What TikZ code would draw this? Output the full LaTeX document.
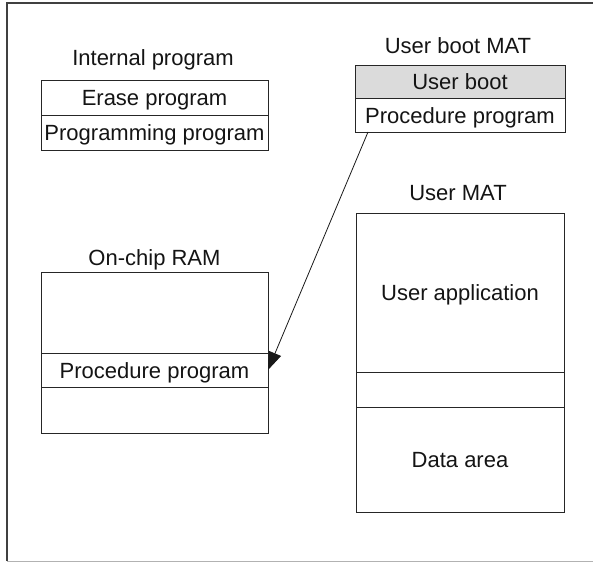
\documentclass[tikz,border=0pt]{standalone}
\usepackage{fontspec}
\setmainfont{Liberation Sans}
\usetikzlibrary{arrows.meta,positioning}
\begin{document}
\begin{tikzpicture}[x=1pt,y=-1pt,font=\fontsize{22}{26}\selectfont,text=black!92,
	cell/.style={draw=black!85,line width=0.9pt,inner sep=0pt,outer sep=0pt,text height=16pt,text depth=0pt,anchor=north west},
	title/.style={anchor=base,inner sep=0pt}]
				\useasboundingbox (0,0) rectangle (593,562);
				\draw[black!75,line width=1.2pt] (593,3)--(7,3)--(7,561);
				\draw[black!30,line width=1pt] (7,561)--(593,561);
				% internal program
				\node[cell,minimum width=227pt,minimum height=35pt] (erase) at (41,80) {Erase program};
				\node[cell,minimum width=227pt,minimum height=35pt,below=0pt of erase] (progr) {Programming program};
				\node[title] (intlbl) at (153,65) {Internal program};
				% user boot mat
				\node[cell,minimum width=210pt,minimum height=33pt,fill=black!14] (uboot) at (355,65) {User boot};
				\node[cell,minimum width=210pt,minimum height=34pt,below=0pt of uboot] (ubproc) {Procedure program};
				\node[title] (ublbl) at (458,53) {User boot MAT};
				% on-chip ram
				\node[cell,minimum width=227pt,minimum height=81pt] (ramtop) at (41,272) {};
				\node[cell,minimum width=227pt,minimum height=34pt,below=0pt of ramtop] (ramproc) {Procedure program};
				\node[cell,minimum width=227pt,minimum height=46pt,below=0pt of ramproc] (rambot) {};
				\node[title] (ramlbl) at (154.5,265) {On-chip RAM};
				% user mat
				\node[cell,minimum width=208pt,minimum height=159pt] (uapp) at (356,213) {User application};
				\node[cell,minimum width=208pt,minimum height=35pt,below=0pt of uapp] (ugap) {};
				\node[cell,minimum width=208pt,minimum height=105pt,below=0pt of ugap] (udata) {Data area};
				\node[title] (umlbl) at (458,200) {User MAT};
				\draw[black!90,line width=0.8pt,-{Triangle[length=18pt,width=13pt]}] ([xshift=13pt]ubproc.south west)--(ramproc.east);
			\end{tikzpicture}
\end{document}
